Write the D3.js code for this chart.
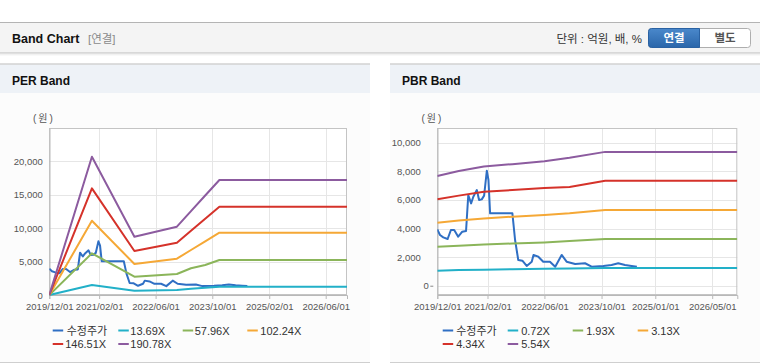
<!DOCTYPE html>
<html><head><meta charset="utf-8">
<script src="https://cdn.jsdelivr.net/npm/d3@7"></script>
<style>
body{margin:0;background:#fff;}
svg{display:block;font-family:"Liberation Sans",Arial,"Noto Sans CJK KR",sans-serif;}
</style></head><body>
<svg id="c" width="760" height="364"></svg>
<script>
// ---------------- data ----------------
const priceDates = ["2019-12-01","2019-12-24","2020-01-21","2020-02-27","2020-03-26","2020-04-23","2020-05-27","2020-07-01","2020-08-02","2020-08-21","2020-09-14","2020-10-03","2020-11-02","2020-11-21","2020-12-14","2021-01-03","2021-01-26","2021-02-09","2021-02-23","2021-09-01","2021-09-24","2021-10-21","2021-11-25","2022-01-01","2022-02-13","2022-02-28","2022-04-10","2022-05-22","2022-07-18","2022-09-01","2022-10-26","2022-12-07","2023-02-18","2023-05-13","2023-07-08","2023-10-16","2023-12-25","2024-02-20","2024-04-18","2024-06-13","2024-07-28"];
const priceValues = [3940,3545,3380,3265,3895,3895,3430,3780,3825,6340,5760,6220,6690,5990,6040,6300,8040,7390,5060,5060,3195,1800,1750,1380,1680,2150,2030,1680,1680,1330,2150,1680,1520,1570,1330,1380,1450,1570,1450,1380,1330];

const perBandDates = ["2019-12-01","2020-12-01","2021-12-01","2022-12-01","2023-04-01","2023-08-01","2023-12-01","2026-12-01"];
const per1369 = [0,1490,620,740,950,1100,1240,1240];
const per5796 = [0,6240,2740,3140,4000,4490,5240,5240];
const per10224 = [0,11120,4640,5440,6740,8030,9330,9330];
const per14651 = [0,15970,6590,7830,9630,11430,13220,13220];
const per19078 = [0,20700,8730,10230,12560,14890,17220,17220];

const pbrBandDates = ["2019-12-01","2020-06-01","2021-01-01","2021-09-01","2022-06-01","2023-01-01","2023-11-01","2026-12-01"];
const pbr072 = [1050,1100,1120,1150,1190,1210,1240,1240];
const pbr193 = [2730,2800,2880,2950,3030,3120,3270,3270];
const pbr313 = [4410,4560,4700,4830,4950,5060,5300,5300];
const pbr434 = [6040,6300,6570,6690,6830,6900,7340,7340];
const pbr554 = [7670,8020,8340,8500,8710,8950,9360,9360];

const perLabels = ["수정주가","13.69X","57.96X","102.24X","146.51X","190.78X"];
const pbrLabels = ["수정주가","0.72X","1.93X","3.13X","4.34X","5.54X"];
const perXTicks = ["2019/12/01","2021/02/01","2022/06/01","2023/10/01","2025/02/01","2026/06/01"];
const pbrXTicks = ["2019/12/01","2021/02/01","2022/06/01","2023/10/01","2025/01/01","2026/05/01"];
const perYTicks = [0,5000,10000,15000,20000];
const pbrYTicks = [0,2000,4000,6000,8000,10000];
const xDomain = ["2019-12-01","2026-12-01"];

const colors = ["#2f6fc4","#22b0c8","#8bb55a","#f5a836","#d5322a","#8c5b9f"];

// ---------------- drawing ----------------
const svg = d3.select("#c");
const parse = d3.timeParse("%Y-%m-%d");
const parseT = d3.timeParse("%Y/%m/%d");
const fmt = d3.format(",");

// header bar
svg.append("rect").attr("x",0).attr("y",22).attr("width",760).attr("height",31).attr("fill","#f4f4f4");
svg.append("line").attr("x1",0).attr("x2",760).attr("y1",22.5).attr("y2",22.5).attr("stroke","#b4b4b4");
svg.append("line").attr("x1",0).attr("x2",760).attr("y1",53).attr("y2",53).attr("stroke","#bdbdbd");
svg.append("line").attr("x1",0).attr("x2",760).attr("y1",54).attr("y2",54).attr("stroke","#e2e2e2");
svg.append("line").attr("x1",0).attr("x2",760).attr("y1",55).attr("y2",55).attr("stroke","#f3f3f3");
svg.append("text").attr("x",12).attr("y",42.5).attr("font-size","12.5px").attr("font-weight","bold").attr("fill","#111").text("Band Chart");
svg.append("text").attr("x",88).attr("y",42.5).attr("font-size","11.5px").attr("fill","#8a8a8a").text("[연결]");
svg.append("text").attr("x",642).attr("y",42.5).attr("text-anchor","end").attr("font-size","11.5px").attr("fill","#333").text("단위 : 억원, 배, %");

const defs = svg.append("defs");
const grad = defs.append("linearGradient").attr("id","btnBlue").attr("x1",0).attr("x2",0).attr("y1",0).attr("y2",1);
grad.append("stop").attr("offset","0%").attr("stop-color","#4a88cb");
grad.append("stop").attr("offset","100%").attr("stop-color","#2a66aa");
svg.append("rect").attr("x",648.5).attr("y",28.5).attr("width",102).attr("height",19).attr("rx",3).attr("fill","#fff").attr("stroke","#aeaeae");
svg.append("path").attr("d","M699.5,28.5 H651.5 Q648.5,28.5 648.5,31.5 V44.5 Q648.5,47.5 651.5,47.5 H699.5 Z").attr("fill","url(#btnBlue)").attr("stroke","#2a62a3");
svg.append("text").attr("x",674).attr("y",42.3).attr("text-anchor","middle").attr("font-size","11.5px").attr("font-weight","bold").attr("fill","#fff").text("연결");
svg.append("text").attr("x",725).attr("y",42.3).attr("text-anchor","middle").attr("font-size","11.5px").attr("font-weight","bold").attr("fill","#555").text("별도");

function panel(cfg){
  const g = svg.append("g");
  g.append("rect").attr("x",cfg.px).attr("y",64).attr("width",370).attr("height",298).attr("fill","#fcfcfc");
  g.append("rect").attr("x",cfg.px).attr("y",64).attr("width",370).attr("height",29).attr("fill","#eef2f7");
  g.append("line").attr("x1",cfg.px).attr("x2",cfg.px+370).attr("y1",64).attr("y2",64).attr("stroke","#d2d2d2").attr("stroke-width",1.5);
  g.append("line").attr("x1",cfg.px).attr("x2",cfg.px+370).attr("y1",362.5).attr("y2",362.5).attr("stroke","#cfcfcf");
  g.append("text").attr("x",cfg.px+12).attr("y",84.5).attr("font-size","12px").attr("font-weight","bold").attr("fill","#111").text(cfg.title);

  const x = d3.scaleTime().domain(xDomain.map(parse)).range([cfg.x0,cfg.x1]);
  const y = d3.scaleLinear().domain(cfg.yDomain).range([295,128]);

  // plot frame & grid
  g.append("rect").attr("x",cfg.x0).attr("y",128).attr("width",cfg.x1-cfg.x0).attr("height",167).attr("fill","#fff");
  g.selectAll(".hg").data(cfg.yTicks).join("line")
    .attr("x1",cfg.x0).attr("x2",cfg.x1).attr("y1",d=>Math.round(y(d))+0.5).attr("y2",d=>Math.round(y(d))+0.5)
    .attr("stroke","#e6e6e6");
  g.selectAll(".vg").data(cfg.xTicks.slice(1)).join("line")
    .attr("x1",d=>Math.round(x(parseT(d)))+0.5).attr("x2",d=>Math.round(x(parseT(d)))+0.5).attr("y1",128).attr("y2",295)
    .attr("stroke","#e6e6e6");
  g.append("rect").attr("x",cfg.x0+0.5).attr("y",128.5).attr("width",cfg.x1-cfg.x0-1).attr("height",166).attr("fill","none").attr("stroke","#c4c4c4");

  // axes
  const yAxis = d3.axisLeft(y).tickValues(cfg.yTicks).tickSize(0).tickPadding(cfg.yPad).tickFormat(fmt);
  const ya = g.append("g").attr("transform",`translate(${cfg.x0},0)`).call(yAxis);
  ya.select(".domain").remove();
  ya.selectAll("text").attr("font-size","9.5px").attr("fill","#555").attr("font-family","Liberation Sans, Arial, sans-serif");
  if(cfg.zeroShift){
    ya.selectAll(".tick").filter(d=>d===0).select("text").attr("x",-cfg.yPad+cfg.zeroShift);
    ya.selectAll(".tick").filter(d=>d===0).append("line").attr("x1",-7).attr("x2",-4).attr("stroke","#888");
  }
  const xAxis = d3.axisBottom(x).tickValues(cfg.xTicks.map(parseT)).tickSize(4).tickPadding(4).tickFormat(d3.timeFormat("%Y/%m/%d"));
  const xa = g.append("g").attr("transform","translate(0,295)").call(xAxis);
  xa.select(".domain").attr("stroke","#b8b8b8");
  xa.selectAll(".tick line").attr("stroke","#b8b8b8");
  xa.selectAll("text").attr("font-size","9.5px").attr("fill","#555").attr("font-family","Liberation Sans, Arial, sans-serif");
  g.append("line").attr("x1",cfg.x0+0.5).attr("x2",cfg.x0+0.5).attr("y1",128).attr("y2",295).attr("stroke","#b8b8b8");

  g.append("text").attr("x",cfg.unitX).attr("y",121.5).attr("font-size","10px").attr("letter-spacing","2px").attr("fill","#555").text("(원)");

  // series
  const clipId = "clip"+cfg.title.replace(/\s/g,"");
  defs.append("clipPath").attr("id",clipId).append("rect").attr("x",cfg.x0).attr("y",127).attr("width",cfg.x1-cfg.x0).attr("height",169);
  const plot = g.append("g").attr("clip-path",`url(#${clipId})`);
  const line = d3.line().x(d=>x(d[0])).y(d=>y(d[1]));
  const price = priceDates.map((d,i)=>[parse(d),priceValues[i]]);
  plot.append("path").datum(price).attr("d",line).attr("fill","none").attr("stroke",colors[0]).attr("stroke-width",2).attr("stroke-linejoin","round");
  cfg.bands.forEach((vals,k)=>{
    const data = cfg.bandDates.map((d,i)=>[parse(d),vals[i]]);
    plot.append("path").datum(data).attr("d",line).attr("fill","none").attr("stroke",colors[k+1]).attr("stroke-width",2).attr("stroke-linejoin","round");
  });

  // legend
  cfg.labels.forEach((lab,i)=>{
    const lx = cfg.legX[i], ly = cfg.legY[i];
    g.append("line").attr("x1",lx).attr("x2",lx+10.5).attr("y1",ly).attr("y2",ly).attr("stroke",colors[i]).attr("stroke-width",2);
    g.append("text").attr("x",lx+cfg.legGap[i]).attr("y",ly+4).attr("font-size","11px").attr("fill","#333").text(lab);
  });
}

panel({px:0,title:"PER Band",x0:49.3,x1:347,yDomain:[0,25000],yTicks:perYTicks,xTicks:perXTicks,yPad:6.5,unitX:33,
  bandDates:perBandDates,bands:[per1369,per5796,per10224,per14651,per19078],labels:perLabels,
  legX:[52.7,118.3,182.7,247.3,52.7,118.3],legY:[330.5,330.5,330.5,330.5,344,344],legGap:[14,12,12,13,12.5,12]});
panel({px:390,title:"PBR Band",x0:437.3,x1:737.3,yDomain:[-650,11030],yTicks:pbrYTicks,xTicks:pbrXTicks,yPad:16.5,unitX:421.5,zeroShift:8,
  bandDates:pbrBandDates,bands:[pbr072,pbr193,pbr313,pbr434,pbr554],labels:pbrLabels,
  legX:[442.7,507.7,572.7,637.7,442.7,507.7],legY:[330.5,330.5,330.5,330.5,344,344],legGap:[13.5,13.5,13.5,13.5,13.5,13.5]});
</script>
</body></html>
